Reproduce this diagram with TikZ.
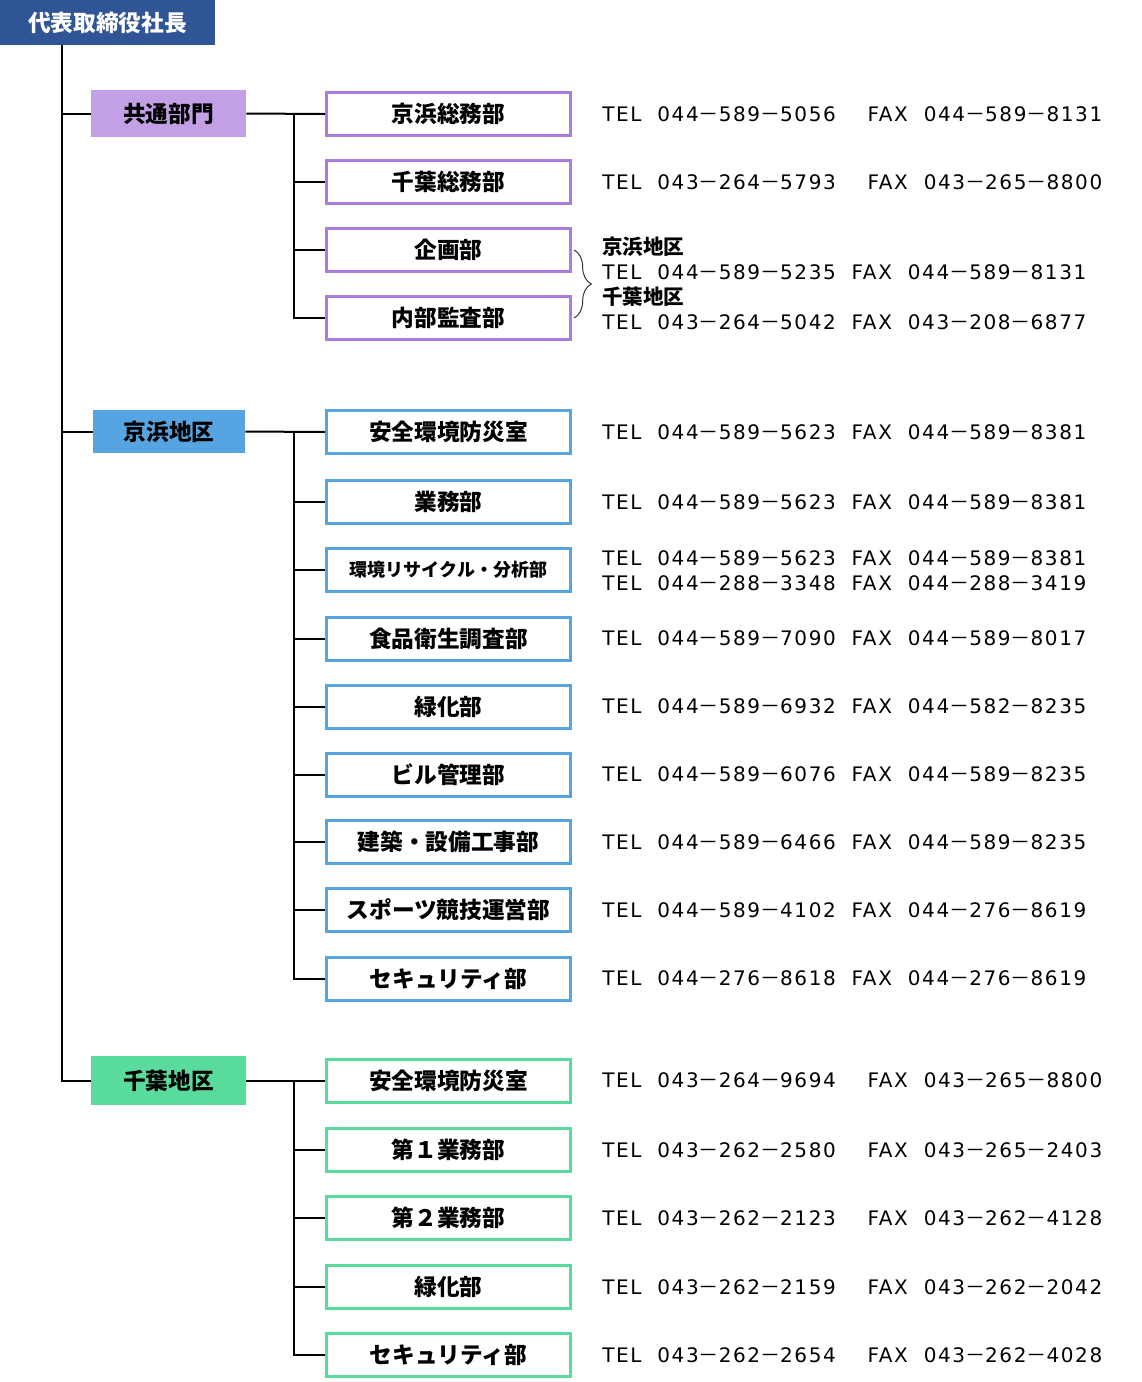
\documentclass[tikz,border=0pt]{standalone}
\usepackage{fontspec}
\setmainfont{Noto Sans CJK JP}
\newfontfamily\telfont[LetterSpace=8]{DejaVu Sans}
\usetikzlibrary{positioning}
\usetikzlibrary{decorations.pathreplacing}
\definecolor{topblue}{HTML}{2F5597}
\definecolor{purplefill}{HTML}{C3A0E6}
\definecolor{purpleline}{HTML}{A97CE0}
\definecolor{bluefill}{HTML}{56A5E2}
\definecolor{greenfill}{HTML}{5ADB9E}
\catcode`－=\active
\def－{{\rmfamily\char"FF0D}}

\begin{document}
\begin{tikzpicture}[x=0.75pt,y=-0.75pt]
            \tikzset{every node/.style={inner sep=0pt},
                    unit/.style={draw=#1, line width=2.25pt, fill=white, minimum width=183pt, minimum height=32.25pt, font=\fontsize{17}{20}\selectfont\bfseries},
                    area/.style={fill=#1, minimum width=116.25pt, minimum height=35.25pt, font=\fontsize{17}{20}\selectfont\bfseries},
                    tel/.style={anchor=west, font=\telfont\fontsize{15}{18}\selectfont},
                    telhead/.style={anchor=west, font=\fontsize{15.4}{18}\selectfont\bfseries},
                    conn/.style={draw=black, line width=1.5pt},
                    bracket/.style={draw=black!80, line width=0.75pt, decorate, decoration={brace, amplitude=13pt}}}
            \useasboundingbox (0,0) rectangle (1142,1382);
            \node[fill=topblue, text=white, minimum width=161.25pt, minimum height=33.75pt, font=\fontsize{17}{20}\selectfont\bfseries] (ceo) at (107.5,22.5) {代表取締役社長};
            % 共通部門
            \node[area=purplefill] (kyotsu) at (168.5,113.5) {共通部門};
            \node[unit=purpleline] (ks) at (448.5,114) {京浜総務部};
            \node[unit=purpleline] (cs) at (448.5,182) {千葉総務部};
            \node[unit=purpleline] (kikaku) at (448.5,250) {企画部};
            \node[unit=purpleline] (kansa) at (448.5,318) {内部監査部};
            \node[tel] (tks) at (602,114) {TEL~~044－589－5056~~~~FAX~~044－589－8131};
            \node[tel] (tcs) at (602,182) {TEL~~043－264－5793~~~~FAX~~043－265－8800};
            \node[telhead] (hk) at (602,247) {京浜地区};
            \node[tel] (tkk) at (602,272) {TEL~~044－589－5235~~FAX~~044－589－8131};
            \node[telhead] (hc) at (602,297) {千葉地区};
            \node[tel] (tkc) at (602,322) {TEL~~043－264－5042~~FAX~~043－208－6877};
            % 京浜地区
            \node[area=bluefill, minimum width=114pt, minimum height=32.25pt] (keihin) at (169,431.5) {京浜地区};
            \node[unit=bluefill] (k1) at (448.5,432) {安全環境防災室};
            \node[unit=bluefill] (k2) at (448.5,502) {業務部};
            \node[unit=bluefill, font=\fontsize{13.5}{16}\selectfont\bfseries] (k3) at (448.5,569.5) {環境リサイクル・分析部};
            \node[unit=bluefill] (k4) at (448.5,638.5) {食品衛生調査部};
            \node[unit=bluefill] (k5) at (448.5,706.5) {緑化部};
            \node[unit=bluefill] (k6) at (448.5,774.5) {ビル管理部};
            \node[unit=bluefill] (k7) at (448.5,842) {建築・設備工事部};
            \node[unit=bluefill] (k8) at (448.5,910) {スポーツ競技運営部};
            \node[unit=bluefill] (k9) at (448.5,978.5) {セキュリティ部};
            \node[tel] (tk1) at (602,432) {TEL~~044－589－5623~~FAX~~044－589－8381};
            \node[tel] (tk2) at (602,502) {TEL~~044－589－5623~~FAX~~044－589－8381};
            \node[tel] (tk3) at (602,558) {TEL~~044－589－5623~~FAX~~044－589－8381};
            \node[tel] (tk3b) at (602,583) {TEL~~044－288－3348~~FAX~~044－288－3419};
            \node[tel] (tk4) at (602,638.5) {TEL~~044－589－7090~~FAX~~044－589－8017};
            \node[tel] (tk5) at (602,706.5) {TEL~~044－589－6932~~FAX~~044－582－8235};
            \node[tel] (tk6) at (602,774.5) {TEL~~044－589－6076~~FAX~~044－589－8235};
            \node[tel] (tk7) at (602,842) {TEL~~044－589－6466~~FAX~~044－589－8235};
            \node[tel] (tk8) at (602,910) {TEL~~044－589－4102~~FAX~~044－276－8619};
            \node[tel] (tk9) at (602,978.5) {TEL~~044－276－8618~~FAX~~044－276－8619};
            % 千葉地区
            \node[area=greenfill, minimum height=36.75pt] (chiba) at (168.5,1080.5) {千葉地区};
            \node[unit=greenfill] (c1) at (448.5,1080.5) {安全環境防災室};
            \node[unit=greenfill] (c2) at (448.5,1150) {第１業務部};
            \node[unit=greenfill] (c3) at (448.5,1218) {第２業務部};
            \node[unit=greenfill] (c4) at (448.5,1287) {緑化部};
            \node[unit=greenfill] (c5) at (448.5,1355) {セキュリティ部};
            \node[tel] (tc1) at (602,1080.5) {TEL~~043－264－9694~~~~FAX~~043－265－8800};
            \node[tel] (tc2) at (602,1150) {TEL~~043－262－2580~~~~FAX~~043－265－2403};
            \node[tel] (tc3) at (602,1218) {TEL~~043－262－2123~~~~FAX~~043－262－4128};
            \node[tel] (tc4) at (602,1287) {TEL~~043－262－2159~~~~FAX~~043－262－2042};
            \node[tel] (tc5) at (602,1355) {TEL~~043－262－2654~~~~FAX~~043－262－4028};
            % connectors
            \coordinate (trunk) at (62,45);
            \coordinate (kb1) at (294,114);
            \coordinate (kb2) at (294,432);
            \coordinate (kb3) at (294,1080.5);
            \path[conn] (trunk) |- (chiba.west);
            \path[conn] (trunk |- kyotsu.west) -- (kyotsu.west);
            \path[conn] (trunk |- keihin.west) -- (keihin.west);
            \path[conn] (kyotsu.east) -- (ks.west);
            \path[conn] (kb1) |- (kansa.west);
            \foreach \n in {cs,kikaku}
                \path[conn] (kb1 |- \n.west) -- (\n.west);
            \path[conn] (keihin.east) -- (k1.west);
            \path[conn] (kb2) |- (k9.west);
            \foreach \n in {k2,k3,k4,k5,k6,k7,k8}
                \path[conn] (kb2 |- \n.west) -- (\n.west);
            \path[conn] (chiba.east) -- (c1.west);
            \path[conn] (kb3) |- (c5.west);
            \foreach \n in {c2,c3,c4}
                \path[conn] (kb3 |- \n.west) -- (\n.west);
            \path[bracket] ([xshift=1.5pt]kikaku.east) -- ([xshift=1.5pt]kansa.east);
        \end{tikzpicture}
\end{document}
